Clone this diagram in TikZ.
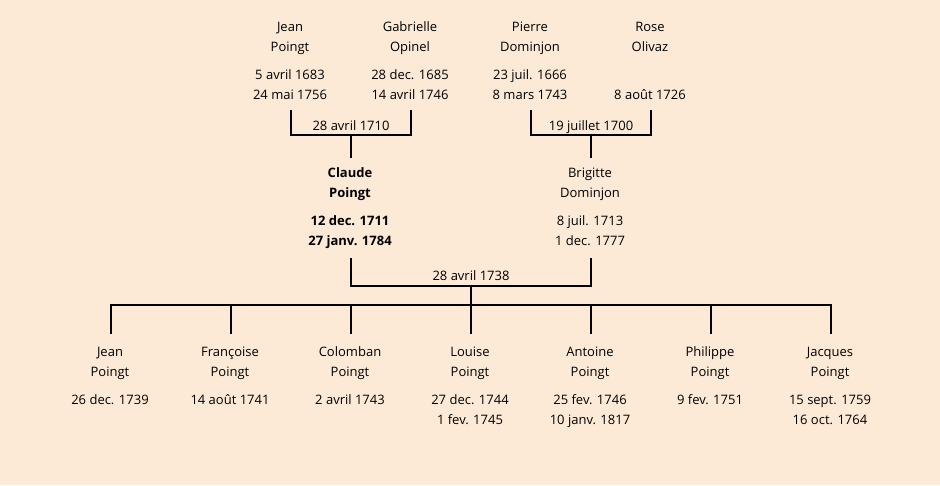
\documentclass[tikz,border=0pt]{standalone}
\usepackage{fontspec}
\setmainfont{Open Sans}
\definecolor{bg}{RGB}{252,234,215}
\begin{document}
\begin{tikzpicture}[x=1pt,y=-1pt,
  person/.style={align=center,inner sep=0pt,anchor=north,font=\fontsize{13}{20}\selectfont},
  link/.style={line width=2pt,line cap=rect},
  lbl/.style={inner sep=0pt,anchor=base,font=\fontsize{13}{20}\selectfont}]
\fill[bg] (0,0) rectangle (940,485);
\useasboundingbox (0,0) rectangle (940,485);
% grandparents (north = first baseline - 14)
\node[person] (p1) at (290,17) {\strut Jean\\Poingt\\[8pt]5 avril 1683\\24 mai 1756};
\node[person] (p2) at (410,17) {\strut Gabrielle\\Opinel\\[8pt]28 dec. 1685\\14 avril 1746};
\node[person] (p3) at (530,17) {\strut Pierre\\Dominjon\\[8pt]23 juil. 1666\\8 mars 1743};
\node[person] (p4) at (650,17) {\strut Rose\\Olivaz\\[8pt]\\8 août 1726};
% parents
\node[person] (c) at (350,163) {\strut\bfseries Claude\\\bfseries Poingt\\[8pt]\bfseries 12 dec. 1711\\\bfseries 27 janv. 1784};
\node[person] (b) at (590,163) {\strut Brigitte\\Dominjon\\[8pt]8 juil. 1713\\1 dec. 1777};
% children
\node[person] (k1) at (110,342) {\strut Jean\\Poingt\\[8pt]26 dec. 1739};
\node[person] (k2) at (230,342) {\strut Françoise\\Poingt\\[8pt]14 août 1741};
\node[person] (k3) at (350,342) {\strut Colomban\\Poingt\\[8pt]2 avril 1743};
\node[person] (k4) at (470,342) {\strut Louise\\Poingt\\[8pt]27 dec. 1744\\1 fev. 1745};
\node[person] (k5) at (590,342) {\strut Antoine\\Poingt\\[8pt]25 fev. 1746\\10 janv. 1817};
\node[person] (k6) at (710,342) {\strut Philippe\\Poingt\\[8pt]9 fev. 1751};
\node[person] (k7) at (830,342) {\strut Jacques\\Poingt\\[8pt]15 sept. 1759\\16 oct. 1764};
% marriage 1
\coordinate (m1) at (351,135);
\draw[link] (291,111) |- (m1) -| (411,111);
\draw[link] (m1) -- (351,157);
\node[lbl] (l1) at (351,130) {28 avril 1710};
% marriage 2
\coordinate (m2) at (591,135);
\draw[link] (531,111) |- (m2) -| (651,111);
\draw[link] (m2) -- (591,157);
\node[lbl] (l2) at (591,130) {19 juillet 1700};
% marriage 3
\coordinate (m3) at (471,286);
\draw[link] (351,259) |- (m3) -| (591,259);
\draw[link] (m3) -- (471,305);
\node[lbl] (l3) at (471,280) {28 avril 1738};
% children bar
\draw[link] (111,333) |- (831,305) -- (831,333);
\foreach \x in {231,351,471,591,711}{\draw[link] (\x,305) -- (\x,333);}
\end{tikzpicture}
\end{document}
